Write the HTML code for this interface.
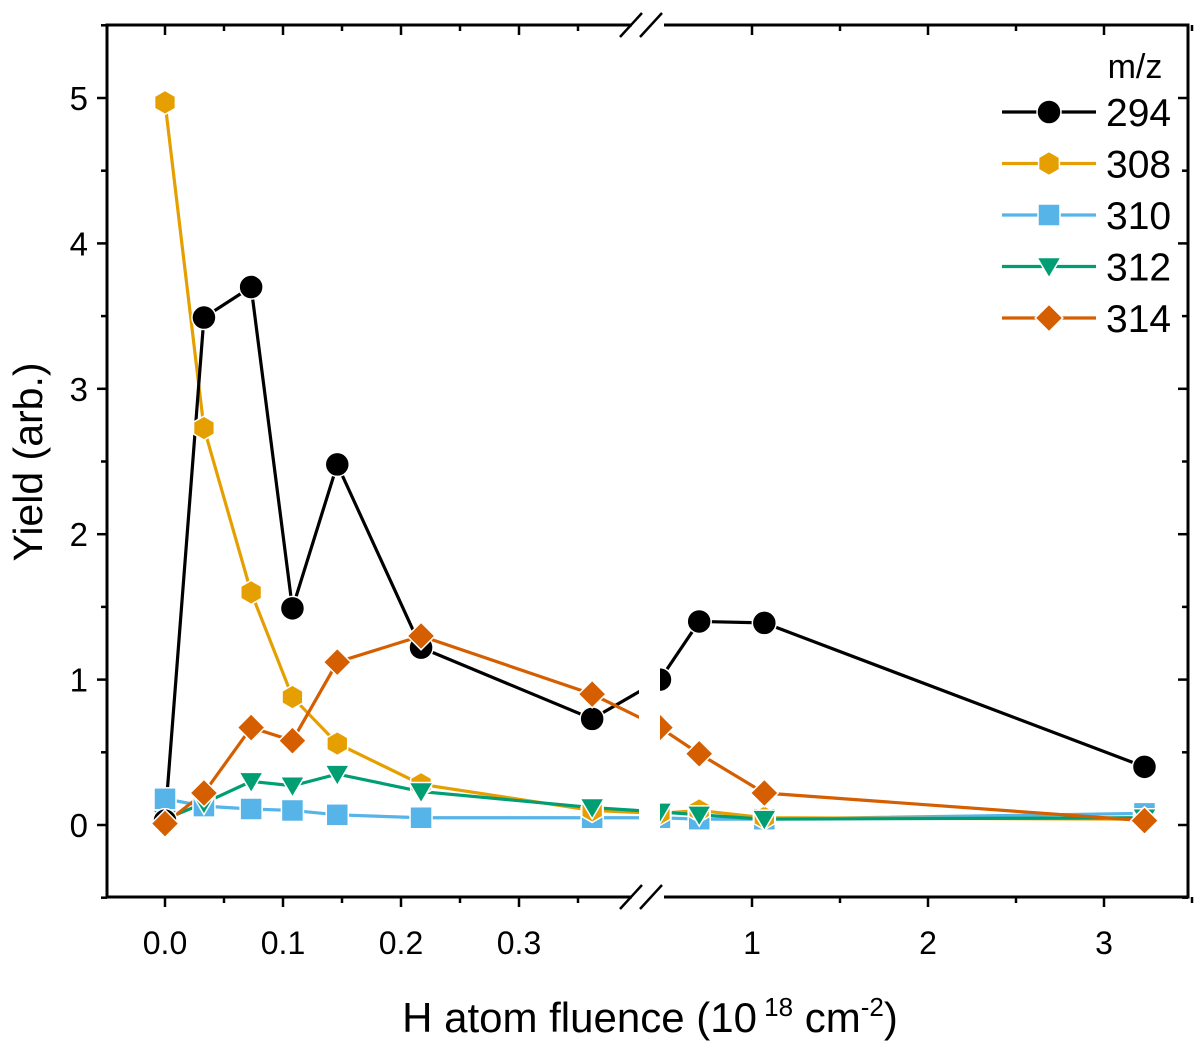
<!DOCTYPE html>
<html><head><meta charset="utf-8"><style>
html,body{margin:0;padding:0;background:#fff;}
svg text{font-family:"Liberation Sans",Arial,sans-serif;}
</style></head><body>
<svg id="chart" width="1200" height="1048" viewBox="0 0 1200 1048" xmlns="http://www.w3.org/2000/svg">
<g id="plot"></g>
</svg>
<script>
const fluence = [0, 0.033, 0.073, 0.108, 0.146, 0.217, 0.362, 0.477, 0.70, 1.07, 3.23];
const y294 = [0.03, 3.49, 3.70, 1.49, 2.48, 1.22, 0.73, 1.00, 1.40, 1.39, 0.40];
const y308 = [4.97, 2.73, 1.60, 0.88, 0.56, 0.28, 0.10, 0.08, 0.10, 0.05, 0.04];
const y310 = [0.18, 0.13, 0.11, 0.10, 0.07, 0.05, 0.05, 0.05, 0.04, 0.04, 0.08];
const y312 = [0.04, 0.15, 0.30, 0.27, 0.35, 0.23, 0.12, 0.09, 0.07, 0.04, 0.05];
const y314 = [0.01, 0.22, 0.67, 0.58, 1.12, 1.30, 0.90, 0.67, 0.49, 0.22, 0.03];
const seriesNames = ["294","308","310","312","314"];
const yTicks = [0,1,2,3,4,5];
const xTicksLeft = [0,0.1,0.2,0.3];
const xTicksRight = [1,2,3];

const NS="http://www.w3.org/2000/svg";
const g=document.getElementById('plot');
const L=107,R=1188,T=25,B=897;
function sx(v){ return v<=0.41 ? 165+v*1180 : 752+(v-1)*176; }
function sy(v){ return 825-v*145.4; }
function el(tag,attrs,parent){const e=document.createElementNS(NS,tag);for(const k in attrs)e.setAttribute(k,attrs[k]);(parent||g).appendChild(e);return e;}

const cols=["#000000","#E69F00","#56B4E9","#009E73","#D55E00"];
const datas=[y294,y308,y310,y312,y314];
const shapes=["circle","hex","square","tri","diamond"];
function marker(shape,x,y,c,parent,s){
  s=s||12;let e;
  if(shape==="circle") e=el('circle',{cx:x,cy:y,r:s,fill:c,stroke:'#fff','stroke-width':1.5},parent);
  else if(shape==="square") e=el('rect',{x:x-s+1,y:y-s+1,width:2*s-2,height:2*s-2,fill:c,stroke:'#fff','stroke-width':1.5},parent);
  else {
    let pts=[];
    if(shape==="hex") for(let i=0;i<6;i++){const a=Math.PI/6+i*Math.PI/3;pts.push([x+s*Math.cos(a),y+s*Math.sin(a)]);}
    if(shape==="tri") pts=[[x-s,y-s*0.75],[x+s,y-s*0.75],[x,y+s*0.95]];
    if(shape==="diamond") pts=[[x,y-s*1.15],[x+s*1.15,y],[x,y+s*1.15],[x-s*1.15,y]];
    e=el('polygon',{points:pts.map(p=>p.join(',')).join(' '),fill:c,stroke:'#fff','stroke-width':1.5},parent);
  }
  return e;
}
const order=[2,1,3,0,4];
const lineG=el('g',{});


for(const i of order){
  const p=el('polyline',{points:fluence.map((f,j)=>sx(f)+','+sy(datas[i][j])).join(' '),fill:'none',stroke:cols[i],'stroke-width':3.2},lineG);
  
  
}
const mkG=el('g',{});


for(const i of order){
  datas[i].forEach((v,j)=>{
    const m=marker(shapes[i],sx(fluence[j]),sy(v),cols[i],mkG);
    
    
  });
}
const gap=el('rect',{x:639,y:T+2,width:21,height:B-T-4,fill:'#fff'});



const frame=el('rect',{x:L,y:T,width:R-L,height:B-T,fill:'none',stroke:'#000','stroke-width':3});


el('rect',{x:632,y:T-3,width:32,height:6,fill:'#fff'});
el('rect',{x:632,y:B-3,width:32,height:6,fill:'#fff'});
[T,B].forEach(yy=>{
  [620,640].forEach(x0=>{
    const s=el('line',{x1:x0,y1:yy+12,x2:x0+22,y2:yy-12,stroke:'#000','stroke-width':2.5});
    
    
  });
});

for(let v=-0.5;v<=5.5;v+=0.5){
  const y=sy(v);const major=Math.abs(v-Math.round(v))<1e-6;
  el('line',{x1:L-(major?10:6),y1:y,x2:L,y2:y,stroke:'#000','stroke-width':2.5});
  el('line',{x1:R,y1:y,x2:R-(major?10:6),y2:y,stroke:'#000','stroke-width':2.5});
}
yTicks.forEach(v=>{
  const t=el('text',{x:88,y:sy(v)+12,'text-anchor':'end','font-size':33});t.textContent=v;
  
  
});
function xt(x,major){
  el('line',{x1:x,y1:B,x2:x,y2:B+(major?10:6),stroke:'#000','stroke-width':2.5});
  el('line',{x1:x,y1:T,x2:x,y2:T+(major?10:6),stroke:'#000','stroke-width':2.5});
}
for(let v=0;v<=0.4001;v+=0.05){ if(sx(v)<632) xt(sx(v),Math.abs(v*10-Math.round(v*10))<1e-6); }
for(let v=0.5;v<=3.51;v+=0.5){ if(sx(v)>664) xt(sx(v),Math.abs(v-Math.round(v))<1e-6); }
xTicksLeft.forEach(v=>{const t=el('text',{x:sx(v),y:954,'text-anchor':'middle','font-size':32});t.textContent=v.toFixed(1);
  
  });
xTicksRight.forEach(v=>{const t=el('text',{x:sx(v),y:954,'text-anchor':'middle','font-size':32});t.textContent=v;
  
  });

const xt1=el('text',{x:650,y:1032,'text-anchor':'middle','font-size':42});
xt1.innerHTML='H atom fluence (10<tspan dy="-16" font-size="26"> 18</tspan><tspan dy="16"> cm</tspan><tspan dy="-16" font-size="26">-2</tspan><tspan dy="16">)</tspan>';


const yt=el('text',{x:0,y:0,'text-anchor':'middle','font-size':41,transform:'translate(42,462) rotate(-90)'});
yt.textContent='Yield (arb.)';



const lg=el('g',{});


const lt=el('text',{x:1135,y:78,'text-anchor':'middle','font-size':34},lg);lt.textContent='m/z';
seriesNames.forEach((n,i)=>{
  const y=112+i*51.5;
  const e=el('g',{},lg);
  
  
  el('line',{x1:1002,y1:y,x2:1096,y2:y,stroke:cols[i],'stroke-width':3.2},e);
  marker(shapes[i],1049,y,cols[i],e,12);
  const t=el('text',{x:1106,y:y+14,'font-size':39},e);t.textContent=n;
});
</script>
</body></html>
